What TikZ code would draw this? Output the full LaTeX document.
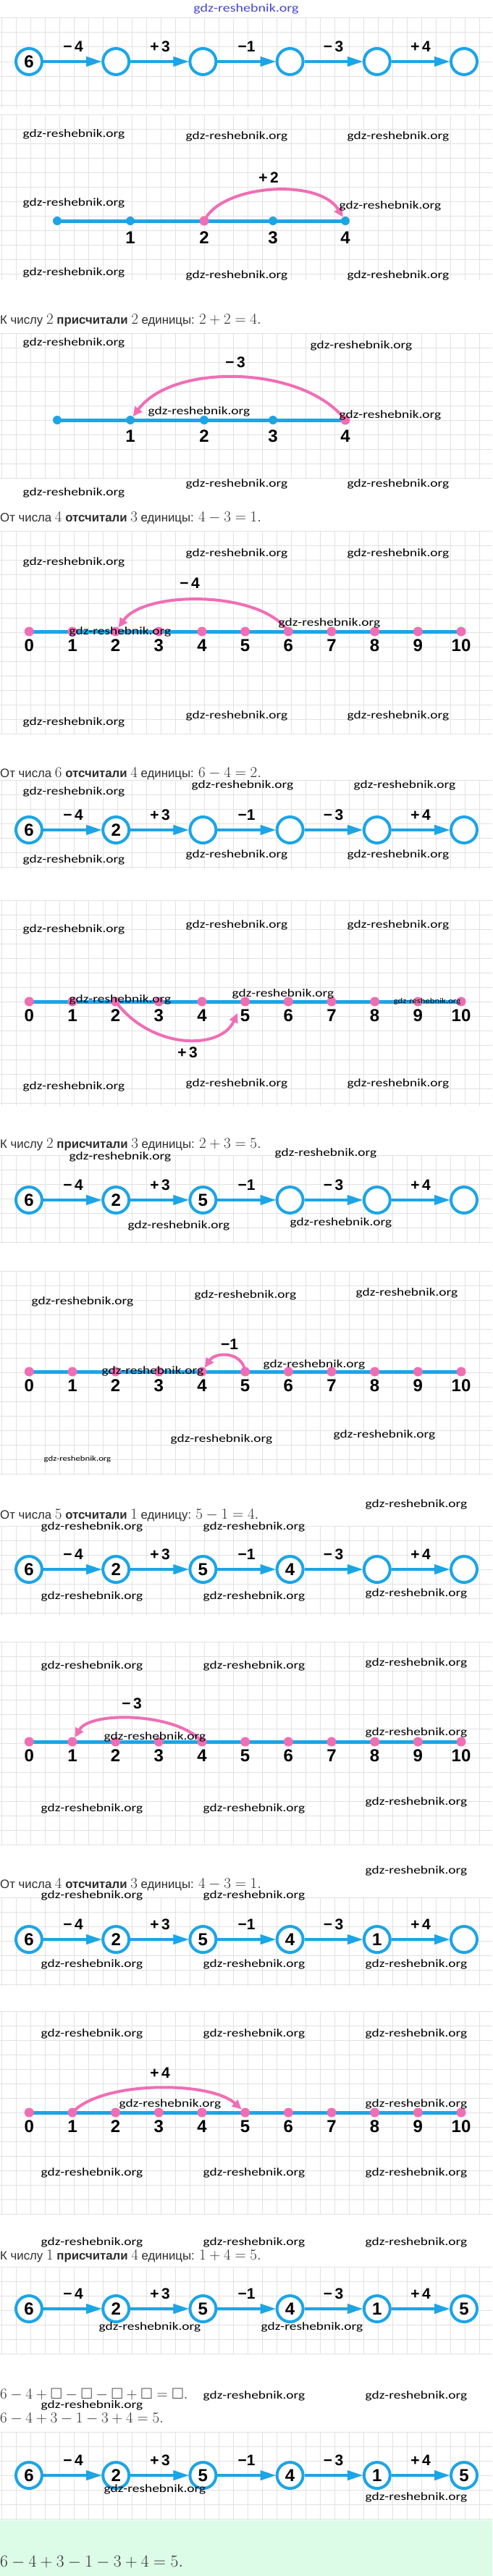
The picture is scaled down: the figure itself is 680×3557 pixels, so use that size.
\RequirePackage{fix-cm}
\documentclass[tikz,border=0pt]{standalone}
\usepackage{amssymb}
\usepackage[no-math]{fontspec}
\setmainfont{Liberation Sans}
\newfontfamily\lbl{Liberation Sans}
\newfontfamily\wmf[FakeStretch=1.25]{Carlito}
\newfontfamily\txf[Scale=0.8]{Liberation Sans}
\usetikzlibrary{arrows.meta}
\definecolor{cblue}{RGB}{28,165,230}
\definecolor{cpink}{RGB}{240,110,180}
\definecolor{cgreen}{RGB}{220,252,232}
\definecolor{ctext}{RGB}{45,45,45}
\definecolor{cgrid}{RGB}{226,226,226}
\definecolor{ctitle}{RGB}{70,70,210}
\tikzset{
 ring/.style={circle,draw=cblue,line width=4pt,fill=white,minimum size=36pt,inner sep=0pt,font=\lbl\bfseries\fontsize{24}{24}\selectfont},
 chainarrow/.style={draw=cblue,line width=4pt,-{Triangle[length=22pt,width=13pt]},shorten >=-1pt},
 oplabel/.style={font=\lbl\bfseries\fontsize{21}{21}\selectfont,inner sep=0pt},
 nlabel/.style={font=\lbl\bfseries\fontsize{24}{24}\selectfont,inner sep=0pt},
 numline/.style={draw=cblue,line width=5pt},
 pdot/.style={circle,fill=cpink,minimum size=13pt,inner sep=0pt},
 bdot/.style={circle,fill=cblue,minimum size=12pt,inner sep=0pt},
 jump/.style={draw=cpink,line width=4pt,-{Triangle[length=13pt,width=12pt]}},
 wm/.style={font=\wmf\fontsize{15.5}{16}\selectfont,text=black,inner sep=0pt},
 wms/.style={font=\wmf\fontsize{10.2}{11}\selectfont,text=black,inner sep=0pt},
 sent/.style={anchor=west,inner sep=0pt,text=ctext,font=\txf\fontsize{21}{22}\selectfont},
 gridln/.style={draw=cgrid,line width=1pt},
}
\newcounter{wmc}
\newcommand\wm[2]{\stepcounter{wmc}\node[wm] (wm\arabic{wmc}) at (#1,#2) {gdz-reshebnik.org};}
\newcommand\wmsmall[2]{\stepcounter{wmc}\node[wms] (wm\arabic{wmc}) at (#1,#2) {gdz-reshebnik.org};}
\newcommand\gridpanel[2]{%
 \begin{scope}
 \clip (0,#1) rectangle (680,#2);
 \foreach \gx in {2,22,...,682} {\draw[gridln] (\gx,#1) -- (\gx,#2);}
 \foreach \gy in {0,20,...,300} {\draw[gridln] (0,#1+\gy) -- (680,#1+\gy);}
 \end{scope}}
\newcommand\chainrow[7]{%
 \node[ring] (c#1-1) at (40,#1) {#2};
 \node[ring] (c#1-2) at (160.2,#1) {#3};
 \node[ring] (c#1-3) at (280.4,#1) {#4};
 \node[ring] (c#1-4) at (400.6,#1) {#5};
 \node[ring] (c#1-5) at (520.8,#1) {#6};
 \node[ring] (c#1-6) at (641,#1) {#7};
 \draw[chainarrow] (c#1-1) -- (c#1-2);
 \draw[chainarrow] (c#1-2) -- (c#1-3);
 \draw[chainarrow] (c#1-3) -- (c#1-4);
 \draw[chainarrow] (c#1-4) -- (c#1-5);
 \draw[chainarrow] (c#1-5) -- (c#1-6);
 \node[oplabel] (o#1-1) at (101,#1-21) {−\,4};
 \node[oplabel] (o#1-2) at (221,#1-21) {+\,3};
 \node[oplabel] (o#1-3) at (340.5,#1-21) {−1};
 \node[oplabel] (o#1-4) at (460.7,#1-21) {−\,3};
 \node[oplabel] (o#1-5) at (581,#1-21) {+\,4};
}
\newcommand\numline[1]{%
 \foreach \k in {0,...,10} {\coordinate (n#1-\k) at (40.3+59.67*\k,#1);}
 \draw[numline] (n#1-0) -- (n#1-10);
 \foreach \k in {0,...,10} {\node[pdot] (d#1-\k) at (n#1-\k) {};
   \node[nlabel] (l#1-\k) at (40.3+59.67*\k,#1+19) {\k};}
}
\newcommand\shortline[3]{% y, pink index
 \coordinate (s#1-0) at (79,#1);
 \coordinate (s#1-1) at (180,#1);
 \coordinate (s#1-2) at (282,#1);
 \coordinate (s#1-3) at (377,#1);
 \coordinate (s#1-4) at (477,#1);
 \draw[numline] (s#1-0) -- (s#1-4);
 \foreach \k in {0,...,4} {\node[bdot] (sd#1-\k) at (s#1-\k) {};}
 \node[pdot] (sp#1) at (s#1-#2) {};
 \foreach \k in {1,...,4} {\node[nlabel] (sl#1-\k) at ($(s#1-\k)+(0,#3)$) {\k};}
}
\usetikzlibrary{calc}
\begin{document}
\begin{tikzpicture}[x=1pt,y=-1pt]
\useasboundingbox (0,0) rectangle (680,3557);
\fill[white] (0,0) rectangle (680,3557);
% grid panels
\gridpanel{25}{150}
\gridpanel{158}{387}
\gridpanel{460}{660}
\gridpanel{733}{1013}
\gridpanel{1077}{1200}
\gridpanel{1243}{1527}
\gridpanel{1595}{1717}
\gridpanel{1755}{2037}
\gridpanel{2107}{2230}
\gridpanel{2267}{2547}
\gridpanel{2620}{2743}
\gridpanel{2777}{3058}
\gridpanel{3130}{3250}
\gridpanel{3358}{3480}
\fill[cgreen] (0,3480) rectangle (680,3557);
% title
\node[font=\wmf\fontsize{16}{16}\selectfont,text=ctitle,inner sep=0pt] (title) at (340,12) {gdz-reshebnik.org};
% chains
\chainrow{85}{6}{}{}{}{}{}
\chainrow{1146}{6}{2}{}{}{}{}
\chainrow{1657}{6}{2}{5}{}{}{}
\chainrow{2167}{6}{2}{5}{4}{}{}
\chainrow{2678}{6}{2}{5}{4}{1}{}
\chainrow{3188}{6}{2}{5}{4}{1}{5}
\chainrow{3418}{6}{2}{5}{4}{1}{5}
% short number lines
\shortline{305}{2}{23}
\draw[jump] (s305-2) .. controls (305,255) and (440,245) .. (sd305-4);
\node[oplabel] (a1) at (371,245) {+\,2};
\shortline{580}{4}{22}
\draw[jump] (s580-4) .. controls (420,505) and (240,500) .. (sd580-1);
\node[oplabel] (a2) at (325,500) {−\,3};
% number lines 0..10
\numline{872}
\draw[jump] (n872-6) .. controls (360,815) and (200,815) .. (d872-2);
\node[oplabel] (a3) at (262,805) {−\,4};
\numline{1383}
\draw[jump] (n1383-2) .. controls (210,1450) and (305,1450) .. (328,1399);
\node[oplabel] (a4) at (259,1453) {+\,3};
\numline{1894}
\draw[jump] (n1894-5) .. controls (335,1866) and (298,1866) .. (d1894-4);
\node[oplabel] (a5) at (317,1856) {−1};
\numline{2405}
\draw[jump] (n2405-4) .. controls (245,2365) and (125,2362) .. (d2405-1);
\node[oplabel] (a6) at (182,2352) {−\,3};
\numline{2917}
\draw[jump] (n2917-1) .. controls (140,2873) and (290,2873) .. (d2917-5);
\node[oplabel] (a7) at (221,2862) {+\,4};
% sentences
\node[sent] (t1) at (0,442) {К числу $2$ \textbf{присчитали} $2$ единицы: $2+2=4.$};
\node[sent] (t2) at (0,715) {От числа $4$ \textbf{отсчитали} $3$ единицы: $4-3=1.$};
\node[sent] (t3) at (0,1068) {От числа $6$ \textbf{отсчитали} $4$ единицы: $6-4=2.$};
\node[sent] (t4) at (0,1580) {К числу $2$ \textbf{присчитали} $3$ единицы: $2+3=5.$};
\node[sent] (t5) at (0,2092) {От числа $5$ \textbf{отсчитали} $1$ единицу: $5-1=4.$};
\node[sent] (t6) at (0,2602) {От числа $4$ \textbf{отсчитали} $3$ единицы: $4-3=1.$};
\node[sent] (t7) at (0,3115) {К числу $1$ \textbf{присчитали} $4$ единицы: $1+4=5.$};
\node[sent] (t8) at (0,3306) {$6-4+\square-\square-\square+\square=\square.$};
\node[sent] (t9) at (0,3340) {$6-4+3-1-3+4=5.$};
\node[sent,font=\txf\fontsize{23.5}{24}\selectfont] (t10) at (0,3538) {$6-4+3-1-3+4=5.$};
% watermarks
\wm{102}{185}\wm{327}{188}\wm{550}{188}
\wm{102}{280}\wm{539}{284}
\wm{102}{376}\wm{327}{380}\wm{550}{380}
\wm{102}{473}\wm{499}{477}\wm{275}{568}\wm{539}{573}
\wm{327}{668}\wm{550}{668}\wm{102}{680}
\wm{327}{764}\wm{550}{764}\wm{102}{776}
\wm{166}{872}\wm{455}{860}
\wm{102}{997}\wm{327}{988}\wm{550}{988}
\wm{335}{1084}\wm{559}{1084}\wm{102}{1093}
\wm{102}{1187}\wm{327}{1180}\wm{550}{1180}
\wm{102}{1283}\wm{327}{1277}\wm{550}{1277}
\wm{166}{1380}\wm{391}{1372}\wmsmall{590}{1383}
\wm{102}{1500}\wm{327}{1496}\wm{550}{1496}
\wm{450}{1592}\wm{166}{1597}
\wm{247}{1692}\wm{471}{1688}
\wm{114}{1797}\wm{339}{1788}\wm{562}{1785}
\wm{211}{1893}\wm{434}{1884}
\wm{306}{1987}\wm{531}{1981}
\wmsmall{107}{2015}
\wm{575}{2077}\wm{127}{2108}\wm{351}{2108}
\wm{127}{2204}\wm{351}{2204}\wm{575}{2200}
\wm{127}{2300}\wm{351}{2300}\wm{575}{2296}
\wm{575}{2392}\wm{214}{2398}
\wm{127}{2497}\wm{351}{2497}\wm{575}{2488}
\wm{575}{2583}\wm{127}{2617}\wm{351}{2617}
\wm{127}{2712}\wm{351}{2712}\wm{575}{2712}
\wm{127}{2808}\wm{351}{2808}\wm{575}{2808}
\wm{235}{2905}\wm{575}{2905}
\wm{127}{3000}\wm{351}{3000}\wm{575}{3000}
\wm{127}{3096}\wm{351}{3096}\wm{575}{3096}
\wm{207}{3213}\wm{431}{3213}
\wm{351}{3308}\wm{575}{3308}\wm{127}{3321}
\wm{214}{3437}\wm{575}{3448}
\end{tikzpicture}
\end{document}
